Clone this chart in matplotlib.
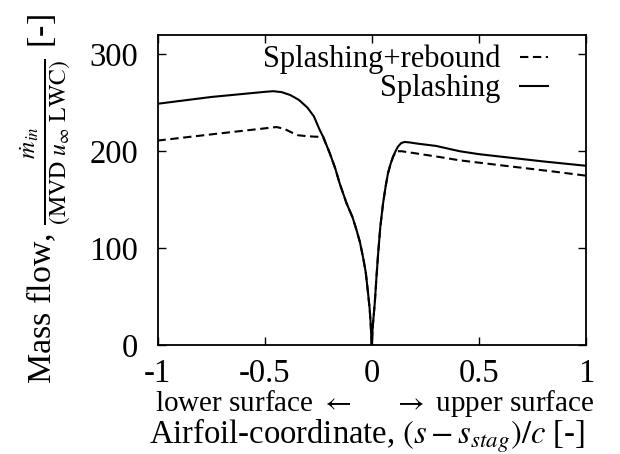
import matplotlib
matplotlib.use("Agg")
import matplotlib.pyplot as plt
from matplotlib.transforms import blended_transform_factory

# ---- data ----
x_splash = [-1.0, -0.75, -0.5, -0.46, -0.42, -0.38, -0.34, -0.3, -0.27, -0.243,
            -0.227, -0.196, -0.17, -0.15, -0.118, -0.09, -0.0715, -0.055, -0.041,
            -0.028, -0.017, -0.01, -0.005, 0.0, 0.005, 0.014, 0.022, 0.03, 0.04,
            0.053, 0.065, 0.076, 0.088, 0.1, 0.112, 0.123, 0.138, 0.154, 0.18,
            0.209, 0.3, 0.411, 0.5, 0.66, 0.8, 1.0]
y_splash = [249, 256, 261.3, 262, 261, 258, 253, 245, 236, 222,
            215, 198, 182, 167, 146.5, 132, 119, 106, 91,
            75, 53, 38, 22, 0, 20, 43, 70, 95, 122,
            146.5, 164, 177.5, 187, 194.7, 200.5, 205, 208.5, 209.6, 209,
            208, 205.5, 200, 197, 193, 189.5, 185]

x_rebound = [-1.0, -0.726, -0.445, -0.425, -0.407, -0.375, -0.344, -0.3, -0.26,
             -0.227, -0.196, -0.17, -0.15, -0.118, -0.09, -0.0715, -0.055, -0.041,
             -0.028, -0.017, -0.01, -0.005, 0.0, 0.005, 0.014, 0.022, 0.03, 0.04,
             0.053, 0.065, 0.076, 0.088, 0.1, 0.115, 0.14, 0.2, 0.318, 0.411,
             0.66, 0.85, 1.0]
y_rebound = [211, 218, 225, 224, 223, 219.5, 216.5, 215.5, 215,
             214.8, 198, 182, 167, 146.5, 132, 119, 106, 91,
             75, 53, 38, 22, 0, 20, 43, 70, 95, 122,
             146.5, 164, 177.5, 187, 194.7, 200, 200, 198, 194, 190.6,
             184, 179, 174.8]

series_labels = ["Splashing+rebound", "Splashing"]
x_ticks = [-1, -0.5, 0, 0.5, 1]
x_ticklabels = ["-1", "-0.5", "0", "0.5", "1"]
y_ticks = [0, 100, 200, 300]
y_ticklabels = ["0", "100", "200", "300"]

# ---- style ----
plt.rcParams["font.family"] = ["Liberation Serif", "DejaVu Serif"]
plt.rcParams["mathtext.fontset"] = "stix"

fig = plt.figure(figsize=(6.2, 4.54), dpi=100)
ax = fig.add_axes([157.5 / 620, 1 - 345 / 454, (586 - 157.5) / 620, (345 - 35) / 454])

ax.plot(x_rebound, y_rebound, color="black", lw=1.5, dashes=(4, 2.2),
        label=series_labels[0])
ax.plot(x_splash, y_splash, color="black", lw=1.5, label=series_labels[1])

ax.set_xlim(-1, 1)
ax.set_ylim(0, 320)
ax.set_xticks(x_ticks)
ax.set_xticklabels(x_ticklabels)
ax.set_yticks(y_ticks)
ax.set_yticklabels(y_ticklabels)
ax.tick_params(direction="in", length=6, width=1, top=True, right=True,
               labelsize=23.5)
ax.tick_params(axis="x", pad=10)
ax.tick_params(axis="y", pad=14)
for s in ax.spines.values():
    s.set_linewidth(1.3)

ax.set_xlabel(r"Airfoil-coordinate, $(s - s_{stag})/c$ [-]", fontsize=23.5,
              va="baseline")
ax.xaxis.set_label_coords(0.49, -0.318)
ax.set_ylabel(r"Mass flow, $\frac{\dot{m}_{in}}{(\mathrm{MVD}\ u_{\infty}\ \mathrm{LWC})}$ [-]",
              fontsize=24.5)
ax.yaxis.set_label_coords(-0.2, 0.471)

tr = blended_transform_factory(ax.transData, ax.transAxes)
ax.text(-0.094, -0.2115, r"lower surface $\leftarrow$", transform=tr, ha="right",
        va="baseline", fontsize=21)
ax.text(0.10, -0.2115, r"$\rightarrow$ upper surface", transform=tr, ha="left",
        va="baseline", fontsize=21)

ax.legend(loc="upper right", bbox_to_anchor=(0.911, 0.968), frameon=False,
          markerfirst=False, fontsize=22, handlelength=0.9, handletextpad=0.65,
          labelspacing=0.0, borderaxespad=0.0, borderpad=0.0)

fig.savefig("out.png", dpi=100)
